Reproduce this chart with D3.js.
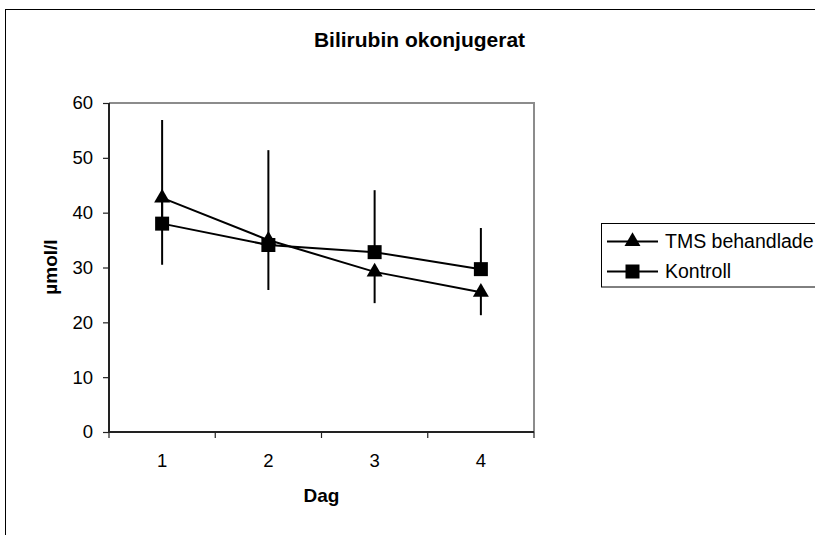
<!DOCTYPE html>
<html>
<head>
<meta charset="utf-8">
<script src="https://cdn.jsdelivr.net/npm/d3@7"></script>
<style>
html,body{margin:0;padding:0;background:#fff;}
svg{display:block;font-family:"Liberation Sans",Arial,sans-serif;}
</style>
</head>
<body>
<svg id="chart" width="815" height="535"></svg>
<script>
const days = ["1", "2", "3", "4"];
const yTicks = [0, 10, 20, 30, 40, 50, 60];
const tmsValues = [42.7, 35.0, 29.2, 25.5];
const tmsLower = [30.5, 25.9, 23.5, 21.3];
const kontrollValues = [38.0, 34.1, 32.8, 29.7];
const kontrollUpper = [56.9, 51.4, 44.1, 37.2];
const seriesNames = ["TMS behandlade", "Kontroll"];

const svg = d3.select("#chart");
const L = 109, R = 534, T = 103, B = 432;

const x = d3.scaleBand().domain(days).range([L, R]);
const y = d3.scaleLinear().domain([0, 60]).range([B, T]);
const cx = d => x(d) + x.bandwidth() / 2;

// outer chart border
svg.append("rect").attr("x", 5.5).attr("y", 9.5).attr("width", 830).attr("height", 540)
  .attr("fill", "none").attr("stroke", "#000").attr("stroke-width", 1);

// title
svg.append("text").attr("x", 419.5).attr("y", 47).attr("text-anchor", "middle")
  .attr("font-size", 21).attr("font-weight", "bold").text("Bilirubin okonjugerat");

// plot frame (top/right gray)
svg.append("path").attr("d", `M${L},${T}H${R}V${B}`).attr("fill", "none")
  .attr("stroke", "#8c8c8c").attr("stroke-width", 2);

// y axis
const yAxis = svg.append("g").attr("transform", `translate(${L},0)`)
  .call(d3.axisLeft(y).tickValues(yTicks).tickSize(6).tickPadding(10).tickFormat(d3.format("d")));
yAxis.select(".domain").attr("stroke", "#222").attr("stroke-width", 2).attr("d", `M0,${T}V${B}`);
yAxis.selectAll(".tick line").attr("stroke", "#222").attr("stroke-width", 1.2);
yAxis.selectAll(".tick text").attr("font-size", 18.5).attr("font-family", "Liberation Sans, Arial, sans-serif").attr("fill", "#000");

// x axis
const xAxis = svg.append("g").attr("transform", `translate(0,${B})`)
  .call(d3.axisBottom(x).tickSize(0).tickPadding(22));
xAxis.select(".domain").attr("stroke", "#222").attr("stroke-width", 2).attr("d", `M${L},0H${R}`);
xAxis.selectAll(".tick text").attr("font-size", 18.5).attr("font-family", "Liberation Sans, Arial, sans-serif").attr("fill", "#000");
// boundary ticks between categories
const bounds = days.map(d => x(d)).concat([R]);
xAxis.selectAll(".bound").data(bounds).enter().append("line").attr("class", "bound")
  .attr("x1", d => d).attr("x2", d => d).attr("y1", 0).attr("y2", 6)
  .attr("stroke", "#222").attr("stroke-width", 1.2);

// axis titles
svg.append("text").attr("x", (L + R) / 2).attr("y", 502).attr("text-anchor", "middle")
  .attr("font-size", 19).attr("font-weight", "bold").text("Dag");
svg.append("text").attr("transform", "translate(57,267) rotate(-90)").attr("text-anchor", "middle")
  .attr("font-size", 19).attr("font-weight", "bold").text("µmol/l");

// error bars
const plot = svg.append("g");
plot.selectAll(".errT").data(days).enter().append("line")
  .attr("x1", d => cx(d)).attr("x2", d => cx(d))
  .attr("y1", (d, i) => y(tmsValues[i])).attr("y2", (d, i) => y(tmsLower[i]))
  .attr("stroke", "#000").attr("stroke-width", 2);
plot.selectAll(".errK").data(days).enter().append("line")
  .attr("x1", d => cx(d)).attr("x2", d => cx(d))
  .attr("y1", (d, i) => y(kontrollValues[i])).attr("y2", (d, i) => y(kontrollUpper[i]))
  .attr("stroke", "#000").attr("stroke-width", 2);

const line = d3.line().x((v, i) => cx(days[i])).y(v => y(v));
const tri = d3.symbol().type(d3.symbolTriangle).size(110);
const sq = d3.symbol().type(d3.symbolSquare).size(196);

// TMS series
plot.append("path").attr("d", line(tmsValues)).attr("fill", "none").attr("stroke", "#000").attr("stroke-width", 2);
plot.selectAll(".tri").data(tmsValues).enter().append("path")
  .attr("d", tri).attr("transform", (v, i) => `translate(${cx(days[i])},${y(v)})`).attr("fill", "#000");
// Kontroll series
plot.append("path").attr("d", line(kontrollValues)).attr("fill", "none").attr("stroke", "#000").attr("stroke-width", 2);
plot.selectAll(".sq").data(kontrollValues).enter().append("path")
  .attr("d", sq).attr("transform", (v, i) => `translate(${cx(days[i])},${y(v)})`).attr("fill", "#000");

// legend
const lg = svg.append("g");
lg.append("rect").attr("x", 601.5).attr("y", 223.5).attr("width", 240).attr("height", 63.5)
  .attr("fill", "#fff").attr("stroke", "#000").attr("stroke-width", 1);
const rows = [241.5, 271.5];
seriesNames.forEach((name, i) => {
  lg.append("line").attr("x1", 607).attr("x2", 658).attr("y1", rows[i]).attr("y2", rows[i])
    .attr("stroke", "#000").attr("stroke-width", 2);
  lg.append("path").attr("d", i === 0 ? tri : sq)
    .attr("transform", `translate(632.5,${rows[i]})`).attr("fill", "#000");
  lg.append("text").attr("x", 665).attr("y", rows[i]).attr("dy", "0.35em")
    .attr("font-size", 19.5).text(name);
});
</script>
</body>
</html>
